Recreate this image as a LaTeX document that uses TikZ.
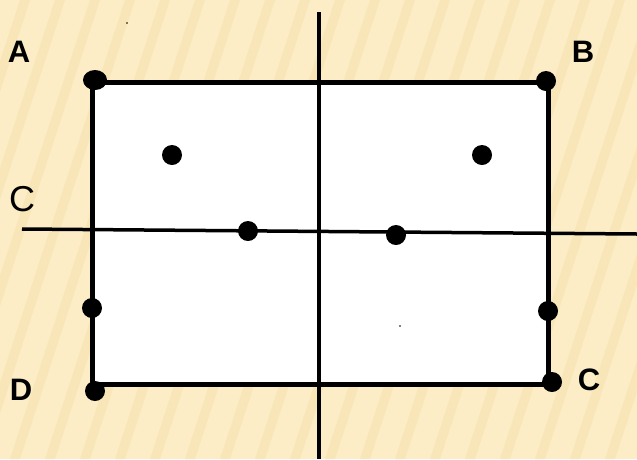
\documentclass[tikz,border=0pt]{standalone}
\usepackage{fontspec}
\setmainfont{Liberation Sans}
\definecolor{bgpaper}{HTML}{FCEDC6}
\definecolor{bgstripe}{HTML}{F8E6B8}
\begin{document}
\begin{tikzpicture}[x=1pt,y=-1pt,
  edge/.style={line width=5pt,line cap=round},
  axis/.style={line width=3.5pt},
  pt/.style={fill=black},
  lab/.style={font=\fontsize{31}{31}\selectfont\bfseries,inner sep=0pt}]
\useasboundingbox (0,0) rectangle (637,459);
\fill[bgpaper] (0,0) rectangle (637,459);
\begin{scope}
\clip (0,0) rectangle (637,459);
\foreach \k in {-200,-165,...,760}{
  \fill[bgstripe] (\k,459) -- (\k+10,459) -- (\k+160,0) -- (\k+150,0) -- cycle;
}
\end{scope}
% rectangle
\fill[white] (92,82) rectangle (548,384);
\coordinate (ul) at (92,82);
\coordinate (ur) at (548,82);
\coordinate (lr) at (548,384);
\coordinate (ll) at (92,384);
\draw[edge] (ul) -- (ur) -- (lr) -- (ll) -- cycle;
% axes
\coordinate (vt) at (319,12);
\coordinate (vb) at (319,459);
\coordinate (hl) at (22,229);
\coordinate (hr) at (637,234);
\draw[axis] (vt) -- (vb);
\draw[axis] (hl) -- (hr);
% points
\fill[pt] (95,80) ellipse (12 and 10);
\fill[pt] (546,81) circle (10);
\fill[pt] (172,155) circle (10);
\fill[pt] (482,155) circle (10);
\fill[pt] (248,231) circle (10);
\fill[pt] (396,235) circle (10);
\fill[pt] (92,308) circle (10);
\fill[pt] (548,311) circle (10);
\fill[pt] (95,391) circle (10);
\fill[pt] (552,382) circle (10);
\fill[black] (127,23) circle (0.8);
\fill[black] (400,326) circle (0.8);
% labels
\node[lab] (A) at (19,52) {A};
\node[lab] (B) at (583,52) {B};
\node[lab] (D) at (21,390) {D};
\node[lab] (C2) at (589,380) {C};
\node[inner sep=0pt,font=\fontsize{36}{36}\selectfont] (C1) at (22,199) {C};
\end{tikzpicture}
\end{document}
